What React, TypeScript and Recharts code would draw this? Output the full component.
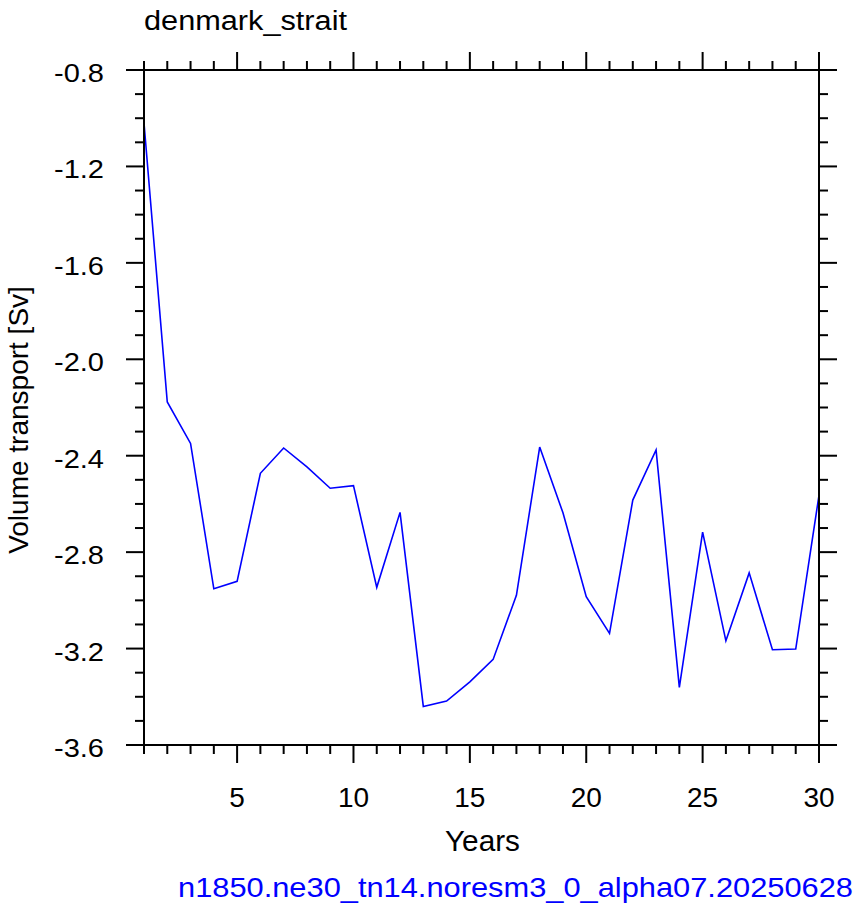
import { LineChart, Line, XAxis, YAxis } from "recharts";

// model years and volume transport through Denmark Strait [Sv]
const years = [
  1, 2, 3, 4, 5, 6, 7, 8, 9, 10, 11, 12, 13, 14, 15,
  16, 17, 18, 19, 20, 21, 22, 23, 24, 25, 26, 27, 28, 29, 30,
];
const transport = [
  -1.02, -2.177, -2.349, -2.952, -2.921, -2.473, -2.368, -2.446, -2.535, -2.524,
  -2.946, -2.635, -3.44, -3.418, -3.338, -3.245, -2.979, -2.364, -2.637, -2.985,
  -3.137, -2.584, -2.376, -3.361, -2.717, -3.168, -2.886, -3.205, -3.202, -2.564,
];
const xMajor = [5, 10, 15, 20, 25, 30];
const yTicks = [
  -3.6, -3.5, -3.4, -3.3, -3.2, -3.1, -3.0, -2.9, -2.8, -2.7, -2.6, -2.5, -2.4, -2.3, -2.2,
  -2.1, -2.0, -1.9, -1.8, -1.7, -1.6, -1.5, -1.4, -1.3, -1.2, -1.1, -1.0, -0.9, -0.8,
];
const yMajor = [-3.6, -3.2, -2.8, -2.4, -2.0, -1.6, -1.2, -0.8];

const title = "denmark_strait";
const xTitle = "Years";
const yTitle = "Volume transport [Sv]";
const caseName = "n1850.ne30_tn14.noresm3_0_alpha07.20250628";

const data = years.map((year, i) => ({ year, v: transport[i] }));

const FONT = "'Liberation Sans', Arial, Helvetica, sans-serif";
const MAJOR = 18;
const MINOR = 9;

const isMajorY = (v: number) => yMajor.some((m) => Math.abs(m - v) < 1e-6);

const BottomTick = (props: any) => {
  const { x, y, payload } = props;
  const major = xMajor.includes(payload.value);
  return (
    <g>
      <line x1={x} y1={y} x2={x} y2={y + (major ? MAJOR : MINOR)} stroke="#000" strokeWidth={2} />
      {major && (
        <text x={x} y={y + 62} textAnchor="middle" fontFamily={FONT} fontSize={28} fill="#000">
          {payload.value}
        </text>
      )}
    </g>
  );
};

const TopTick = (props: any) => {
  const { x, y, payload } = props;
  const major = xMajor.includes(payload.value);
  return <line x1={x} y1={y} x2={x} y2={y - (major ? MAJOR : MINOR)} stroke="#000" strokeWidth={2} />;
};

const LeftTick = (props: any) => {
  const { x, y, payload } = props;
  const major = isMajorY(payload.value);
  return (
    <g>
      <line x1={x} y1={y} x2={x - (major ? MAJOR : MINOR)} y2={y} stroke="#000" strokeWidth={2} />
      {major && (
        <text
          x={x - 40}
          y={y + 12}
          textAnchor="end"
          fontFamily={FONT}
          fontSize={26}
          textLength={50}
          lengthAdjust="spacingAndGlyphs"
          fill="#000"
        >
          {payload.value.toFixed(1)}
        </text>
      )}
    </g>
  );
};

const RightTick = (props: any) => {
  const { x, y, payload } = props;
  const major = isMajorY(payload.value);
  return <line x1={x} y1={y} x2={x + (major ? MAJOR : MINOR)} y2={y} stroke="#000" strokeWidth={2} />;
};

const axisLine = { stroke: "#000", strokeWidth: 2 };

export default function App() {
  return (
    <div style={{ position: "absolute", left: 0, top: 0, width: 858, height: 911, background: "#fff" }}>
      <LineChart width={858} height={911} data={data} margin={{ top: 40, right: 9, left: 44, bottom: 106 }}>
        <XAxis
          xAxisId="bottom"
          dataKey="year"
          type="number"
          domain={[1, 30]}
          ticks={years}
          interval={0}
          height={60}
          tickSize={0}
          tickMargin={0}
          tickLine={false}
          axisLine={axisLine}
          tick={<BottomTick />}
        />
        <XAxis
          xAxisId="top"
          orientation="top"
          dataKey="year"
          type="number"
          domain={[1, 30]}
          ticks={years}
          interval={0}
          height={30}
          tickSize={0}
          tickMargin={0}
          tickLine={false}
          axisLine={axisLine}
          tick={<TopTick />}
        />
        <YAxis
          yAxisId="left"
          type="number"
          domain={[-3.6, -0.8]}
          ticks={yTicks}
          interval={0}
          width={100}
          tickSize={0}
          tickMargin={0}
          tickLine={false}
          axisLine={axisLine}
          tick={<LeftTick />}
        />
        <YAxis
          yAxisId="right"
          orientation="right"
          type="number"
          domain={[-3.6, -0.8]}
          ticks={yTicks}
          interval={0}
          width={30}
          tickSize={0}
          tickMargin={0}
          tickLine={false}
          axisLine={axisLine}
          tick={<RightTick />}
        />
        <Line
          xAxisId="top"
          yAxisId="right"
          dataKey="v"
          stroke="none"
          dot={false}
          activeDot={false}
          isAnimationActive={false}
        />
        <Line
          xAxisId="bottom"
          yAxisId="left"
          type="linear"
          dataKey="v"
          stroke="#0000ff"
          strokeWidth={1.6}
          dot={false}
          activeDot={false}
          isAnimationActive={false}
        />
      </LineChart>
      <svg width={858} height={911} style={{ position: "absolute", left: 0, top: 0, pointerEvents: "none" }}>
        <text
          x={144}
          y={30}
          fontFamily={FONT}
          fontSize={27}
          textLength={203}
          lengthAdjust="spacingAndGlyphs"
          fill="#000"
        >
          {title}
        </text>
        <text
          x={445}
          y={851}
          fontFamily={FONT}
          fontSize={29}
          textLength={75}
          lengthAdjust="spacingAndGlyphs"
          fill="#000"
        >
          {xTitle}
        </text>
        <text
          x={0}
          y={0}
          transform="translate(28 420) rotate(-90)"
          textAnchor="middle"
          fontFamily={FONT}
          fontSize={28}
          fill="#000"
        >
          {yTitle}
        </text>
        <text
          x={178}
          y={897}
          fontFamily={FONT}
          fontSize={28}
          textLength={675}
          lengthAdjust="spacingAndGlyphs"
          fill="#0000ff"
        >
          {caseName}
        </text>
      </svg>
    </div>
  );
}
